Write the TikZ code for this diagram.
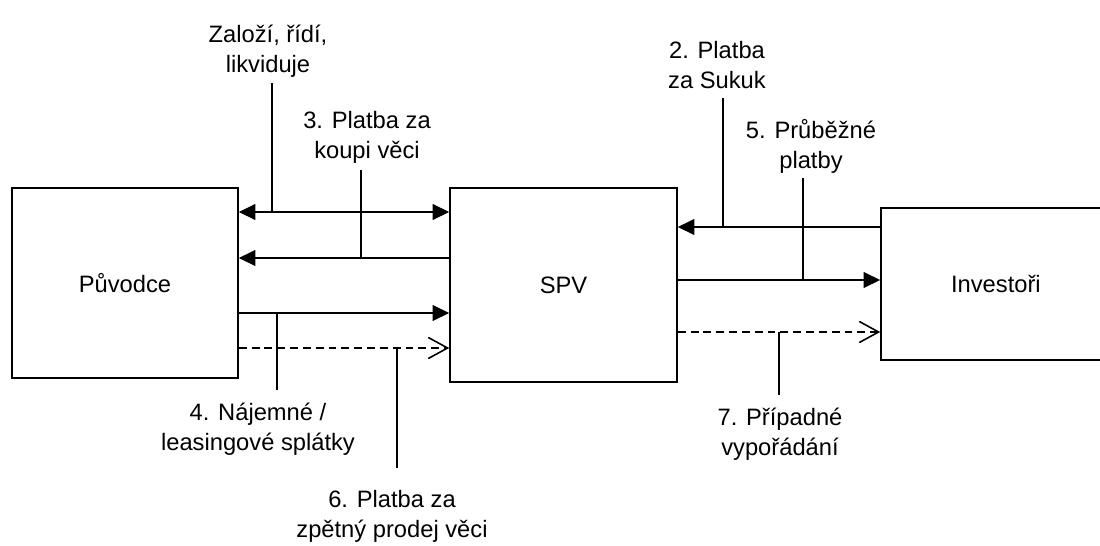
\documentclass[tikz,border=0pt]{standalone}
\usepackage{fontspec}
\setmainfont{Liberation Sans}
\usetikzlibrary{arrows.meta}
\newcommand{\lblfont}{\fontsize{13.5}{17}\selectfont}
\tikzset{
  party/.style={draw,inner sep=0pt,font=\lblfont},
  lbl/.style={font=\lblfont,align=center,inner sep=0pt,anchor=base},
  flow/.style={-{Triangle[length=9.5pt,width=9pt]}},
  twoway/.style={{Triangle[length=9.5pt,width=9pt]}-{Triangle[length=9.5pt,width=9pt]}},
  maybe/.style={dash pattern=on 4.5pt off 2.8pt,-{Straight Barb[length=11pt,width=12pt]}}
}

\begin{document}
\begin{tikzpicture}[x=0.02cm,y=-0.02cm,line width=0.9pt]
  \useasboundingbox (0,0) rectangle (1100,545);
  % the three parties
  \node[party,minimum width=4.52cm,minimum height=3.8cm] (puv) at (125,283) {Původce};
  \node[party,minimum width=4.54cm,minimum height=3.88cm] (spv) at (563.5,285) {SPV};
  \node[party,minimum width=4.42cm,minimum height=3.04cm] (inv) at (991.5,284) {\hspace*{5pt}Investoři};
  % heights of the flows
  \foreach \n/\y in {ya/212,yb/258,yc/313,yd/348,ye/227,yf/280,yg/332}
    {\coordinate (\n) at (0,\y);}
  % Puvodce <-> SPV
  \draw[twoway] (puv.east |- ya) -- (spv.west |- ya);
  \draw[flow] (spv.west |- yb) -- (puv.east |- yb);
  \draw[flow] (puv.east |- yc) -- (spv.west |- yc);
  \draw[maybe] (puv.east |- yd) -- (spv.west |- yd);
  % SPV <-> investori
  \draw[flow] (inv.west |- ye) -- (spv.east |- ye);
  \draw[flow] (spv.east |- yf) -- (inv.west |- yf);
  \draw[maybe] (spv.east |- yg) -- (inv.west |- yg);
  % labels and their leaders
  \node[lbl] (t1) at (268,72) {Založí, řídí,\\likviduje};
  \node[lbl] (t3) at (367,158) {3. Platba za\\koupi věci};
  \node[lbl] (t4) at (258,450) {4. Nájemné /\\leasingové splátky};
  \node[lbl] (t6) at (392,537) {6. Platba za\\zpětný prodej věci};
  \node[lbl] (t2) at (717,88) {2. Platba\\za Sukuk};
  \node[lbl] (t5) at (811,168) {5. Průběžné\\platby};
  \node[lbl] (t7) at (780,455) {7. Případné\\vypořádání};
  \coordinate (k1) at (272,83);
  \coordinate (k3) at (361,170);
  \coordinate (k4) at (277,390);
  \coordinate (k6) at (397,468);
  \coordinate (k2) at (723,98);
  \coordinate (k5) at (803,178);
  \coordinate (k7) at (779,395);
  \draw (k1) -- (k1 |- ya);
  \draw (k3) -- (k3 |- yb);
  \draw (k4) -- (k4 |- yc);
  \draw (k6) -- (k6 |- yd);
  \draw (k2) -- (k2 |- ye);
  \draw (k5) -- (k5 |- yf);
  \draw (k7) -- (k7 |- yg);
\end{tikzpicture}
\end{document}
